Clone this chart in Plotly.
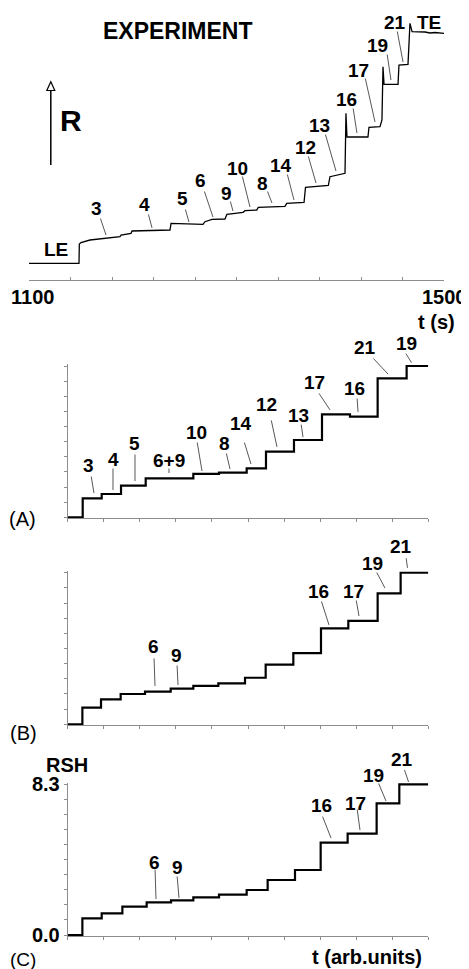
import plotly.graph_objects as go

# ---------------- data ----------------
# Experimental trace (top): time in s, signal R in arbitrary units
exp_t = [1100.0, 1148.2, 1148.5, 1150.1, 1158.8, 1187.7, 1188.7, 1198.3, 1199.3, 1235.9,
         1236.9, 1267.7, 1269.6, 1276.4, 1288.9, 1290.8, 1298.6, 1306.3, 1308.2, 1319.5,
         1321.0, 1346.7, 1348.4, 1365.1, 1366.5, 1388.5, 1390.1, 1404.6, 1405.5, 1406.5,
         1426.7, 1427.7, 1438.3, 1440.2, 1441.2, 1442.2, 1455.7, 1456.6, 1465.3, 1467.2,
         1469.2, 1481.7, 1486.5, 1491.3, 1500.0]
exp_R = [0.00, 0.00, 1.93, 2.08, 2.33, 2.66, 2.83, 3.00, 3.23, 3.33,
         4.00, 3.90, 4.16, 4.40, 4.43, 4.90, 5.00, 5.10, 5.26, 5.33,
         5.60, 5.70, 6.00, 6.08, 7.60, 7.78, 8.66, 9.00, 15.00, 12.63,
         12.63, 13.60, 13.66, 14.33, 19.66, 17.90, 17.90, 19.83, 19.90, 24.00,
         23.16, 23.13, 23.03, 23.08, 23.00]

# Simulated step curves (RSH vs t in arb. units)
step_t_A = [0, 0.416, 0.943, 1.479, 2.163, 3.484, 4.196, 4.963, 5.499, 6.275, 7.052, 7.828, 8.595, 9.399, 10]
rsh_A = [0, 1.04, 1.28, 1.74, 2.14, 2.38, 2.45, 2.69, 3.60, 4.24, 5.65, 5.52, 7.62, 8.30, 8.30]
step_t_B = [0, 0.407, 0.924, 1.469, 2.144, 2.856, 3.484, 4.177, 4.917, 5.490, 6.257, 7.024, 7.782, 8.595, 9.233, 10]
rsh_B = [0, 0.91, 1.37, 1.66, 1.79, 1.95, 2.10, 2.24, 2.55, 3.27, 3.90, 5.25, 5.66, 7.17, 8.30, 8.30]
step_t_C = [0, 0.407, 0.943, 1.516, 2.190, 2.865, 3.484, 4.196, 4.963, 5.545, 6.303, 7.015, 7.763, 8.567, 9.196, 10]
rsh_C = [0, 0.92, 1.19, 1.56, 1.80, 1.91, 2.07, 2.22, 2.48, 3.03, 3.58, 5.09, 5.58, 7.25, 8.30, 8.30]

# Peak labels and the points their leader lines point to (data units)
labels_top = ['3', '4', '5', '6', '9', '10', '8', '14', '12', '13', '16', '17', '19', '21']
lab_top_t = [1174.2, 1218.6, 1254.2, 1277.3, 1296.6, 1313.0, 1334.2, 1355.4, 1376.6, 1395.9, 1416.1, 1433.5, 1448.9, 1460.5]
lab_top_R = [2.83, 3.53, 4.13, 4.63, 5.23, 5.63, 6.03, 6.33, 8.03, 9.23, 13.03, 14.13, 18.33, 20.13]

labels_A = ['3', '4', '5', '6+9', '10', '8', '14', '12', '13', '17', '16', '21', '19']
lab_A_t = [0.729, 1.256, 1.866, 2.809, 3.724, 4.501, 5.083, 5.804, 6.525, 7.274, 8.051, 8.883, 9.576]
lab_A_r = [1.33, 1.50, 1.99, 2.43, 2.54, 2.65, 2.92, 3.86, 4.40, 5.89, 5.78, 7.86, 8.35]

labels_B = ['6', '9', '16', '17', '19', '21']
lab_B_t = [2.421, 3.059, 7.246, 8.078, 8.799, 9.437]
lab_B_r = [2.10, 2.15, 5.44, 5.93, 7.46, 8.35]

labels_C = ['6', '9', '16', '17', '19', '21']
lab_C_t = [2.449, 3.087, 7.302, 8.106, 8.827, 9.465]
lab_C_r = [1.98, 2.04, 5.34, 5.78, 7.38, 8.35]

top_ticks = list(range(1100, 1501, 40))
top_end_labels = [1100, 1500]
rsh_ticks = [round(0.83 * i, 2) for i in range(11)]
rsh_ticktext = ['0.0'] + [''] * 9 + ['8.3']

# ---------------- pixel offsets of leader lines / label texts ----------------
tail_top = [(-6, -18), (-4, -15), (-4, -14), (-9, -27), (-3, -11), (-8, -32), (-5, -13),
            (-7, -27), (-8, -28), (-11, -38), (-4, -26), (-10, -45), (-4, -27), (-6, -32)]
text_top = [(-9, -27), (-8, -24), (-6, -24), (-12, -37), (-6, -18), (-12, -39), (-9, -20),
            (-13, -35), (-10, -36), (-17, -46), (-10, -34), (-17, -52), (-13, -35), (-8, -40)]
tail_A = [(-3, -18), (0, -23), (0, -28), (0, -6), (-5, -30), (-4, -17), (-7, -23),
          (-6, -28), (-2, -14), (-12, -18), (-1, -15), (-16, -17), (-8, -13)]
text_A = [(-5, -28), (1, -30), (0, -38), (0, -13), (-5, -39), (-6, -26), (-10, -41),
          (-10, -42), (-4, -22), (-16, -27), (-4, -23), (-23, -27), (-7, -22)]
tail_B = [(-1, -29), (-1, -21), (-8, -25), (-3, -17), (-9, -17), (-2, -15)]
text_B = [(-2, -39), (-2, -30), (-10, -33), (-5, -25), (-12, -25), (-7, -25)]
tail_C = [(-1, -31), (-2, -23), (-9, -23), (-3, -22), (-8, -19), (-5, -15)]
text_C = [(-2, -37), (-2, -30), (-10, -33), (-5, -27), (-13, -26), (-7, -24)]
stand_A = [0] * 12 + [3]
stand_B = [0] * 5 + [4]
stand_C = [0] * 5 + [1.5]

W, H = 469, 969
OFF = 8  # the page body has an 8px margin; shift the layout so it lands where the reference has it
FONT = "Liberation Sans, Arial, Helvetica, sans-serif"


def px(x):
    return (x - OFF) / W


def py(y):
    return 1 - (y - OFF) / H


fig = go.Figure()
fig.add_trace(go.Scatter(x=exp_t, y=exp_R, mode='lines', line=dict(color='black', width=1.3),
                         xaxis='x', yaxis='y', hoverinfo='skip'))
for i, (tt, rr) in enumerate([(step_t_A, rsh_A), (step_t_B, rsh_B), (step_t_C, rsh_C)]):
    fig.add_trace(go.Scatter(x=tt, y=rr, mode='lines', line=dict(color='black', width=2.2, shape='hv'),
                             xaxis='x%d' % (i + 2), yaxis='y%d' % (i + 2), hoverinfo='skip'))

axis_common = dict(showgrid=False, zeroline=False, showline=True, linecolor='#8c8c8c', linewidth=1,
                   ticklen=3, tickcolor='#8c8c8c', tickwidth=1, automargin=False,
                   ticklabeloverflow='allow')

fig.update_layout(
    width=W, height=H, autosize=False, margin=dict(l=0, r=0, t=0, b=0, pad=0),
    paper_bgcolor='white', plot_bgcolor='white', showlegend=False,
    font=dict(family=FONT, color='black'),
    xaxis=dict(domain=[px(29), px(444)], range=[1100, 1500], anchor='y', ticks='inside',
               tickvals=top_ticks, showticklabels=False, **axis_common),
    yaxis=dict(domain=[py(280), py(18)], range=[-1.67, 24.53], visible=False, anchor='x'),
)

panel_dom = [(518.4, 364.2), (725.4, 570.9), (936.1, 782.5)]
for i, (b, t) in enumerate(panel_dom):
    n = i + 2
    fig.update_layout({
        'xaxis%d' % n: dict(domain=[px(67.7), px(428.3)], range=[0, 10], anchor='y%d' % n,
                            ticks='outside', tickvals=list(range(11)), showticklabels=False,
                            **axis_common),
        'yaxis%d' % n: dict(domain=[py(b), py(t)], range=[-0.06, 8.4], anchor='x%d' % n,
                            ticks='outside', tickvals=rsh_ticks, ticktext=rsh_ticktext,
                            showticklabels=(n == 4),
                            tickfont=dict(size=20, weight='bold', family=FONT, color='black'),
                            **axis_common),
    })

ann = []

# end labels of the time axis (anchored on the axis values)
for val, shift in zip(top_end_labels, [3, 0]):
    ann.append(dict(x=val, y=py(297), xref='x', yref='paper', text=str(val), showarrow=False,
                    xshift=shift, xanchor='center', yanchor='middle',
                    font=dict(size=20, weight='bold', family=FONT, color='black')))


def add_labels(xr, yr, names, xs, ys, tails, texts, stands=None):
    stands = stands or [0] * len(names)
    for name, x, y, tl, tx, sd in zip(names, xs, ys, tails, texts, stands):
        ann.append(dict(x=x, y=y, xref=xr, yref=yr, text='', showarrow=True, arrowhead=0,
                        arrowwidth=0.9, arrowcolor='#444', ax=tl[0], ay=tl[1], standoff=sd,
                        font=dict(size=1)))
        ann.append(dict(x=x, y=y, xref=xr, yref=yr, text=name, showarrow=False,
                        xshift=tx[0], yshift=-tx[1], xanchor='center', yanchor='middle',
                        font=dict(size=19, weight='bold', family=FONT, color='black')))


add_labels('x', 'y', labels_top, lab_top_t, lab_top_R, tail_top, text_top)
add_labels('x2', 'y2', labels_A, lab_A_t, lab_A_r, tail_A, text_A, stand_A)
add_labels('x3', 'y3', labels_B, lab_B_t, lab_B_r, tail_B, text_B, stand_B)
add_labels('x4', 'y4', labels_C, lab_C_t, lab_C_r, tail_C, text_C, stand_C)


def paper_text(text, x, y, size, bold=True):
    ann.append(dict(x=px(x), y=py(y), xref='paper', yref='paper', text=text, showarrow=False,
                    xanchor='center', yanchor='middle',
                    font=dict(size=size, weight='bold' if bold else 'normal', family=FONT, color='black')))


paper_text('EXPERIMENT', 177.5, 31, 23)
paper_text('R', 71, 120, 30)
paper_text('LE', 56, 250, 19)
paper_text('TE', 428.5, 22, 19)
paper_text('t (s)', 436.7, 322, 20)
paper_text('(A)', 22, 519, 20, bold=False)
paper_text('(B)', 23, 733, 20, bold=False)
paper_text('(C)', 23, 959, 19, bold=False)
paper_text('RSH', 67, 765, 20)
paper_text('t (arb.units)', 367, 957, 20)

fig.update_layout(annotations=ann)

# "R" direction arrow with an open head
fig.add_shape(type='line', xref='paper', yref='paper', x0=px(50.8), x1=px(50.8), y0=py(165), y1=py(90.5),
              line=dict(color='black', width=1.5))
fig.add_shape(type='path', xref='paper', yref='paper',
              path='M %f,%f L %f,%f L %f,%f Z' % (px(46.8), py(90.5), px(54.8), py(90.5), px(50.8), py(81.7)),
              line=dict(color='black', width=1.2), fillcolor='white')

fig.write_html("out.html")
